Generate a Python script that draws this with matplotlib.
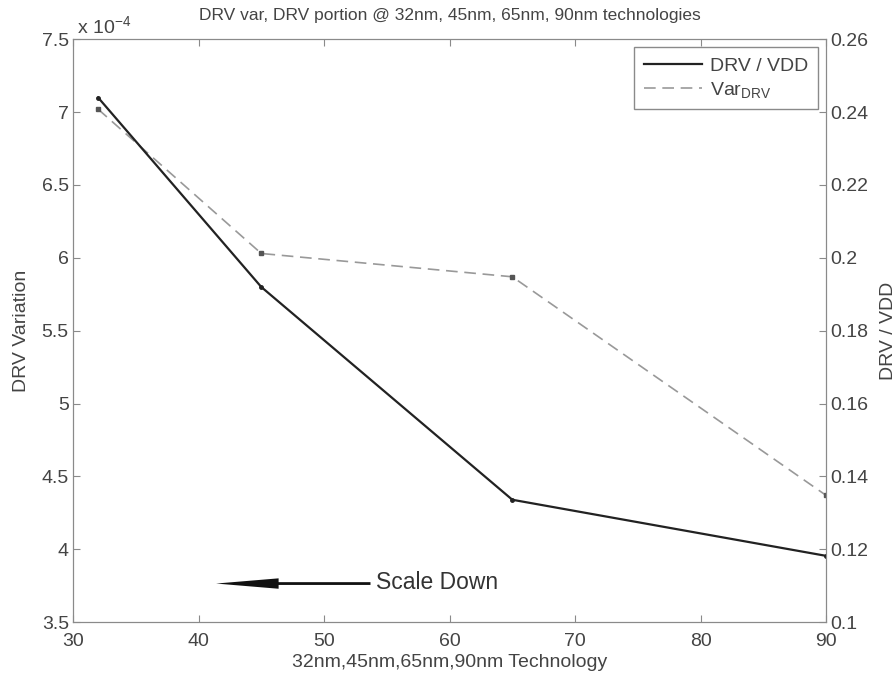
import matplotlib.pyplot as plt
from matplotlib.lines import Line2D

plt.rcParams['font.family'] = ['Liberation Sans', 'DejaVu Sans']
plt.rcParams['mathtext.default'] = 'regular'

# technology nodes (nm)
tech_nm = [32, 45, 65, 90]
# DRV variation, in units of 1e-4
var_drv = [7.02, 6.03, 5.87, 4.37]
# DRV / VDD ratio
drv_ratio = [0.244, 0.192, 0.1336, 0.1182]

TXT = '#444444'
AX = '#8a8a8a'
FS = 14

fig = plt.figure(figsize=(8.96, 6.77), dpi=100)
ax = fig.add_axes([0.0815, 0.081, 0.8405, 0.861])
ax2 = ax.twinx()

ax2.plot(tech_nm, drv_ratio, '-', color='#222222', lw=1.6,
         marker='o', ms=2.5)
ax.plot(tech_nm, var_drv, '--', color='#999999', lw=1.2,
        dashes=(7, 4), marker='s', ms=2.5, mfc='#555555', mec='#555555')

ax.set_xlim(30, 90)
ax.set_ylim(3.5, 7.5)
ax2.set_ylim(0.1, 0.26)
ax.set_xticks(range(30, 91, 10))
ax.set_yticks([3.5, 4, 4.5, 5, 5.5, 6, 6.5, 7, 7.5])
ax.set_yticklabels(['3.5', '4', '4.5', '5', '5.5', '6', '6.5', '7', '7.5'])
ax2.set_yticks([0.1, 0.12, 0.14, 0.16, 0.18, 0.2, 0.22, 0.24, 0.26])
ax2.set_yticklabels(['0.1', '0.12', '0.14', '0.16', '0.18', '0.2', '0.22', '0.24', '0.26'])

for a in (ax, ax2):
    for s in a.spines.values():
        s.set_color(AX)
    a.tick_params(direction='in', colors=AX, labelcolor=TXT, labelsize=FS, length=5)
ax.tick_params(axis='x', top=True, pad=8)
ax.tick_params(axis='y', pad=3)
ax2.tick_params(axis='y', pad=3)

ax.set_xlabel('32nm,45nm,65nm,90nm Technology', color=TXT, fontsize=FS, labelpad=3)
ax.set_ylabel('DRV Variation', color=TXT, fontsize=FS, labelpad=8)
ax2.set_ylabel('DRV / VDD', color=TXT, fontsize=FS, labelpad=8)
ax.set_title('DRV var, DRV portion @ 32nm, 45nm, 65nm, 90nm technologies',
             color=TXT, fontsize=12.5, pad=14)
ax.text(0.005, 1.003, r'x 10$^{-4}$', transform=ax.transAxes, color=TXT,
        fontsize=FS, va='bottom', ha='left')

# "scale down" direction arrow with a long tapered head
ax.annotate('', xy=(41.4, 3.765), xytext=(53.7, 3.765),
            arrowprops=dict(width=2.0, headwidth=7.5, headlength=45,
                            shrink=0, color='#111111', lw=0))
ax.text(54.1, 3.775, 'Scale Down', color='#333333', fontsize=16.5, va='center')

handles = [Line2D([], [], color='#222222', lw=1.6),
           Line2D([], [], color='#999999', lw=1.2, ls='--', dashes=(7, 4))]
leg = ax2.legend(handles, ['DRV / VDD', r'Var$_{DRV}$'], loc='upper right',
                 bbox_to_anchor=(0.989, 0.986), borderaxespad=0,
                 fancybox=False, framealpha=1, edgecolor=AX, fontsize=FS,
                 handlelength=3.0, borderpad=0.5, labelspacing=0.25,
                 handletextpad=0.4)
leg.get_frame().set_linewidth(1.0)
for t in leg.get_texts():
    t.set_color(TXT)

fig.savefig('out.png', dpi=100)
